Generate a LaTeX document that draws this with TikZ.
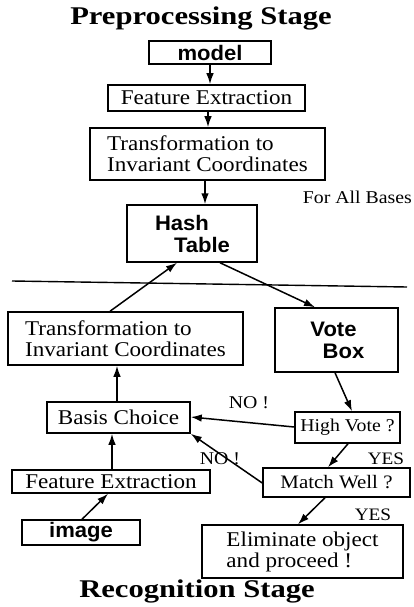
\documentclass[tikz,border=0pt]{standalone}
\usepackage{fontspec}
\setmainfont{Liberation Serif}[FakeStretch=1.1]
\newfontfamily\titlefont{Liberation Serif}[FakeStretch=1.2]
\newfontfamily\boxsans{Liberation Sans}[FakeStretch=1.05]
\usetikzlibrary{arrows.meta,calc}
\begin{document}
\begin{tikzpicture}[x=1pt,y=-1pt,
  box/.style={draw,line width=1.5pt,inner sep=0pt,align=center},
  serifbox/.style={box,font=\fontsize{21}{21}\selectfont},
  sansbox/.style={box,font=\boxsans\bfseries\fontsize{21}{22}\selectfont},
  smallbox/.style={box,font=\fontsize{18}{18}\selectfont},
  lab/.style={inner sep=0pt,font=\fontsize{18}{18}\selectfont},
  ttl/.style={inner sep=0pt,font=\titlefont\bfseries\fontsize{25.5}{25}\selectfont},
  arr/.style={line width=1.5pt,-{Latex[length=11pt,width=7.5pt]}}]
\useasboundingbox (0,0) rectangle (413,607);
\node[ttl] (t1) at (201,18) {Preprocessing Stage};
\node[sansbox,minimum width=122pt,minimum height=23pt] (model) at (210,52.5) {model};
\node[serifbox,minimum width=197pt,minimum height=26pt] (fe1) at (206.5,98) {Feature Extraction};
\node[serifbox,minimum width=235pt,minimum height=52pt,align=left] (tr1) at (207.5,154) {Transformation to\\Invariant Coordinates};
\node[lab,anchor=east] (fab) at (412,197) {For All Bases};
\node[sansbox,minimum width=130pt,minimum height=57pt] (hash) at (192,233.5) {Hash\hspace*{20pt}\\\hspace*{20pt}Table};
\draw[line width=1.4pt] (12,281) coordinate (la) -- (407,287) coordinate (lb);
\node[serifbox,minimum width=235pt,minimum height=53pt,align=left] (tr2) at (125.5,338.5) {Transformation to\\Invariant Coordinates};
\node[sansbox,minimum width=123pt,minimum height=64pt] (vote) at (336.5,340) {Vote\hspace*{6pt}\\\hspace*{14pt}Box};
\node[serifbox,minimum width=143pt,minimum height=31pt] (basis) at (118.5,417.5) {Basis Choice};
\node[smallbox,minimum width=105pt,minimum height=31pt] (high) at (347.5,427.5) {High Vote ?};
\node[serifbox,minimum width=198pt,minimum height=23pt] (fe2) at (111,481.5) {Feature Extraction};
\node[box,font=\fontsize{19}{19}\selectfont,minimum width=147pt,minimum height=29pt] (match) at (336.5,482.5) {Match Well ?};
\node[sansbox,minimum width=118pt,minimum height=25pt] (image) at (81,532.5) {image};
\node[serifbox,minimum width=201pt,minimum height=53pt,align=left] (elim) at (302.5,551.5) {Eliminate object\\and proceed !};
\node[ttl] (t2) at (197,591) {Recognition Stage};
\node[lab] (no1) at (249,403) {NO !};
\node[lab,font=\fontsize{17.5}{18}\selectfont] (yes1) at (386,459) {YES};
\node[lab,font=\fontsize{17.5}{18}\selectfont] (yes2) at (373,515) {YES};
% arrows
\draw[arr] (model.south) -- (fe1.north -| model.south);
\draw[arr] ([xshift=1.5pt]fe1.south) -- ([xshift=1.5pt]fe1.south |- tr1.north);
\draw[arr] ([xshift=-2.5pt]tr1.south) -- ([xshift=-2.5pt]tr1.south |- hash.north);
\draw[arr] ([xshift=-15.5pt]tr2.north) -- ([xshift=-15pt]hash.south);
\draw[arr] ([xshift=28pt]hash.south) -- ([xshift=-21.5pt]vote.north);
\draw[arr] ([xshift=-1.5pt]vote.south) -- ([xshift=4.5pt]high.north);
\draw[arr] ([yshift=0.5pt]high.west) -- ([yshift=0.5pt]basis.east);
\draw[arr] ([xshift=0.5pt]high.south) -- ([xshift=-8.5pt]match.north);
\draw[arr] ([yshift=-0.5pt]match.west) -- (basis.south east);
\draw[arr] ([xshift=1pt]fe2.north) -- ([xshift=1pt]fe2.north |- basis.south);
\draw[arr] ([xshift=-1.5pt]basis.north) -- ([xshift=-1.5pt]basis.north |- tr2.south);
\draw[arr] ([xshift=1pt]image.north) -- ([xshift=-3pt]fe2.south);
\draw[arr] ([xshift=-11.5pt]match.south) -- ([xshift=-4.5pt]elim.north);
\node[lab] (no2) at (220,459) {NO !};
\end{tikzpicture}
\end{document}
